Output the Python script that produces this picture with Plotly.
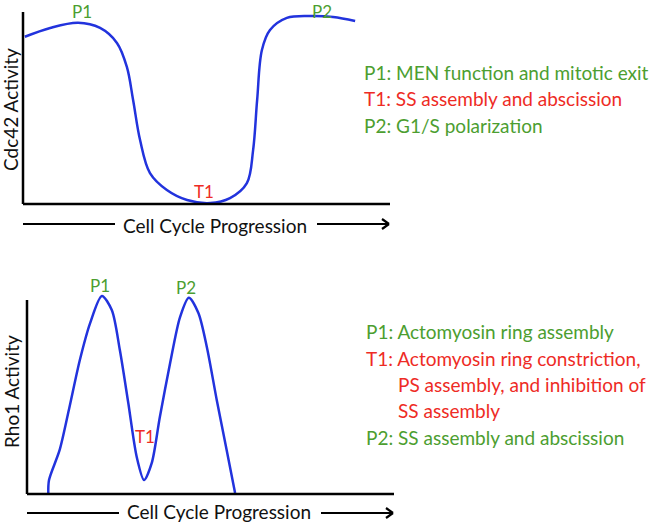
import plotly.graph_objects as go

# abstract units: cell cycle progression 0-100, activity 0-100
cdc42_x = [0.5, 7.4, 15.0, 21.0, 25.6, 28.3, 30.0, 31.9, 34.6, 39.2, 44.7, 51.0,
           56.4, 61.0, 62.7, 63.8, 65.1, 67.3, 71.9, 78.2, 84.5, 90.5]
cdc42_y = [87.1, 91.7, 94.4, 91.7, 83.9, 71.4, 54.2, 33.3, 16.1, 7.3, 2.1, 0.5,
           3.1, 10.9, 28.1, 54.2, 80.2, 90.6, 96.9, 97.9, 97.4, 95.3]

rho1_x = [5.8, 6.0, 8.9, 11.4, 14.4, 17.2, 20.4, 23.1, 25.3, 27.6, 29.9, 31.9,
          34.0, 36.2, 39.0, 41.7, 44.1, 46.7, 49.0, 51.7, 54.4, 56.7]
rho1_y = [0.0, 7.2, 22.7, 43.3, 69.1, 88.1, 102.1, 94.8, 74.2, 46.9, 19.1, 7.2,
          16.0, 39.7, 67.5, 91.2, 101.2, 93.3, 75.8, 48.5, 22.7, 0.5]

# point labels: (text, x, y, colour key)
cdc42_marks = [("P1", 16.1, 100.5, "g"), ("T1", 49.3, 6.3, "r"), ("P2", 81.5, 100.5, "g")]
rho1_marks = [("P1", 19.9, 107.7, "g"), ("T1", 32.2, 29.4, "r"), ("P2", 43.3, 106.2, "g")]

cdc42_notes = [("P1: MEN function and mitotic exit", "g"),
               ("T1: SS assembly and abscission", "r"),
               ("P2: G1/S polarization", "g")]
rho1_notes = [("P1: Actomyosin ring assembly", "g"),
              ("T1: Actomyosin ring constriction,", "r"),
              ("PS assembly, and inhibition of", "r"),
              ("SS assembly", "r"),
              ("P2: SS assembly and abscission", "g")]

W, H = 666, 524
GREEN = "#4c9e30"
RED = "#ee2b25"
BLUE = "#2233dd"
COL = {"g": GREEN, "r": RED}
FONT = "Lato, 'Open Sans', sans-serif"


def px(x):
    return x / W


def py(y):
    return 1 - y / H


fig = go.Figure()
fig.add_trace(go.Scatter(x=cdc42_x, y=cdc42_y, mode="lines", xaxis="x", yaxis="y",
                         line=dict(color=BLUE, width=2.5, shape="spline", smoothing=1.0),
                         hoverinfo="skip"))
fig.add_trace(go.Scatter(x=rho1_x, y=rho1_y, mode="lines", xaxis="x2", yaxis="y2",
                         line=dict(color=BLUE, width=2.5, shape="spline", smoothing=0.8),
                         hoverinfo="skip"))

ax = dict(visible=False, fixedrange=True)
fig.update_layout(
    width=W, height=H, margin=dict(l=0, r=0, t=0, b=0),
    paper_bgcolor="white", plot_bgcolor="rgba(0,0,0,0)", showlegend=False,
    xaxis=dict(ax, range=[-2, 100], domain=[px(15.66), px(390)]),
    yaxis=dict(ax, range=[-2, 104], domain=[py(207.84), py(4.32)]),
    xaxis2=dict(ax, range=[-2, 100], domain=[px(19.66), px(394)]),
    yaxis2=dict(ax, range=[-2, 110], domain=[py(497.88), py(280.6)]),
    font=dict(family=FONT),
)

shapes = []
ann = []
for xr, yr in (("x", "y"), ("x2", "y2")):
    # axis lines
    shapes.append(dict(type="line", xref=xr, yref=yr, x0=0, x1=0, y0=0, y1=100,
                       line=dict(color="black", width=2.5)))
    shapes.append(dict(type="line", xref=xr, yref=yr, x0=0, x1=100, y0=0, y1=0,
                       line=dict(color="black", width=2.5)))

# "Cell Cycle Progression" arrows (pixel layout)
for y, yt, x0, x1, x2, x3, xt in ((224, 225, 23, 115, 317, 389, 215),
                                  (513, 511, 27, 119, 321, 393, 219)):
    shapes.append(dict(type="line", xref="paper", yref="paper", x0=px(x0), x1=px(x1),
                       y0=py(y), y1=py(y), line=dict(color="black", width=2.2)))
    shapes.append(dict(type="line", xref="paper", yref="paper", x0=px(x2), x1=px(x3),
                       y0=py(y), y1=py(y), line=dict(color="black", width=2.2)))
    for dy in (-5, 5):
        shapes.append(dict(type="line", xref="paper", yref="paper", x0=px(x3 - 7), x1=px(x3),
                           y0=py(y + dy), y1=py(y), line=dict(color="black", width=2.2)))
    ann.append(dict(xref="paper", yref="paper", x=px(xt), y=py(yt), text="Cell Cycle Progression",
                    xanchor="center", yanchor="middle", showarrow=False,
                    font=dict(size=19, color="#111111")))

# y axis titles
ann.append(dict(xref="paper", yref="paper", x=px(11), y=py(110), text="Cdc42 Activity",
                textangle=-90, xanchor="center", yanchor="middle", showarrow=False,
                font=dict(size=19, color="#111111")))
ann.append(dict(xref="paper", yref="paper", x=px(11), y=py(392), text="Rho1 Activity",
                textangle=-90, xanchor="center", yanchor="middle", showarrow=False,
                font=dict(size=19, color="#111111")))

# curve labels
for marks, xr, yr in ((cdc42_marks, "x", "y"), (rho1_marks, "x2", "y2")):
    for t, x, y, c in marks:
        ann.append(dict(xref=xr, yref=yr, x=x, y=y, text=t, showarrow=False,
                        xanchor="center", yanchor="middle",
                        font=dict(size=17, color=COL[c])))

# side notes
for i, (t, c) in enumerate(cdc42_notes):
    ann.append(dict(xref="paper", yref="paper", x=px(362), y=py(72 + 26.5 * i), text=t,
                    xanchor="left", yanchor="middle", showarrow=False,
                    font=dict(size=19, color=COL[c])))
for i, (t, c) in enumerate(rho1_notes):
    indent = 396 if t[:2] not in ("P1", "T1", "P2") else 364
    ann.append(dict(xref="paper", yref="paper", x=px(indent), y=py(332 + 26.3 * i), text=t,
                    xanchor="left", yanchor="middle", showarrow=False,
                    font=dict(size=19, color=COL[c])))

fig.update_layout(shapes=shapes, annotations=ann)
fig.write_html("out.html", config={"displayModeBar": False},
               post_script="document.body.style.margin='0';")
